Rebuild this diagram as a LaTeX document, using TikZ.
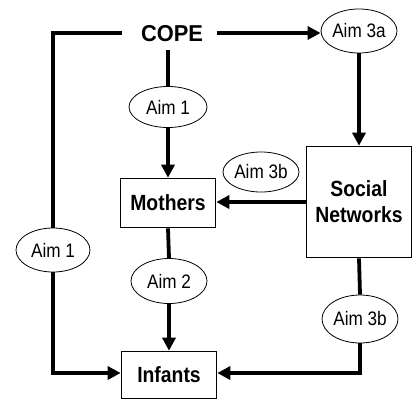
\documentclass[tikz,border=0pt]{standalone}
\usepackage{fontspec}
\setmainfont{Liberation Sans}[FakeStretch=0.88]
\newfontfamily\copefont{Liberation Sans}[FakeStretch=0.95]
\usetikzlibrary{shapes.geometric,arrows.meta}
\begin{document}
\begin{tikzpicture}[x=1pt,y=-1pt,
  boxn/.style={draw,line width=1.6pt,inner sep=0pt,font=\fontsize{22}{26}\selectfont\bfseries,align=center},
  aim/.style={draw,ellipse,line width=0.8pt,inner sep=0pt,font=\fontsize{19.5}{20}\selectfont},
  conn/.style={line width=3.8pt},
  arr/.style={conn,-{Triangle[length=13pt,width=13pt]}}]
\useasboundingbox (0,0) rectangle (419,402);
\node[inner sep=0pt,font=\fontsize{23}{26}\copefont\bfseries] (cope) at (172,33.5) {COPE};
\coordinate (copeW) at (122,33);
\coordinate (copeE) at (217,33);
\coordinate (copeS) at (168,50);
\node[aim,minimum width=76pt,minimum height=44pt] (a3a) at (359,31) {Aim 3a};
\node[aim,minimum width=78pt,minimum height=41pt] (a1m) at (168,107) {Aim 1};
\node[boxn,minimum width=95pt,minimum height=49pt] (moth) at (168,203) {Mothers};
\node[aim,minimum width=76pt,minimum height=40pt] (a3bm) at (261,172) {Aim 3b};
\node[boxn,minimum width=105pt,minimum height=111pt] (sn) at (359,202) {Social\\Networks};
\node[aim,minimum width=74pt,minimum height=44pt] (a1l) at (53,250) {Aim 1};
\node[aim,minimum width=76pt,minimum height=45pt] (a2) at (169,281) {Aim 2};
\node[aim,minimum width=76pt,minimum height=48pt] (a3br) at (360,319) {Aim 3b};
\node[boxn,minimum width=95pt,minimum height=47pt] (inf) at (169,375) {Infants};
\draw[conn] (copeW) -| (a1l.north);
\draw[arr] (copeE) -- (copeE -| a3a.west);
\draw[conn] (copeS) -- (a1m.north);
\draw[arr] (a1m.south) -- (moth.north);
\draw[arr] (a3a.south) -- (sn.north);
\draw[arr] (sn.west) -- (sn.west -| moth.east);
\draw[conn] (moth.south) -- (a2.north);
\draw[arr] (a2.south) -- (inf.north);
\draw[conn] (sn.south) -- (a3br.north);
\draw[arr] (a3br.south) |- ([yshift=2pt]inf.east);
\draw[arr] (a1l.south) |- ([yshift=2pt]inf.west);
\end{tikzpicture}
\end{document}
